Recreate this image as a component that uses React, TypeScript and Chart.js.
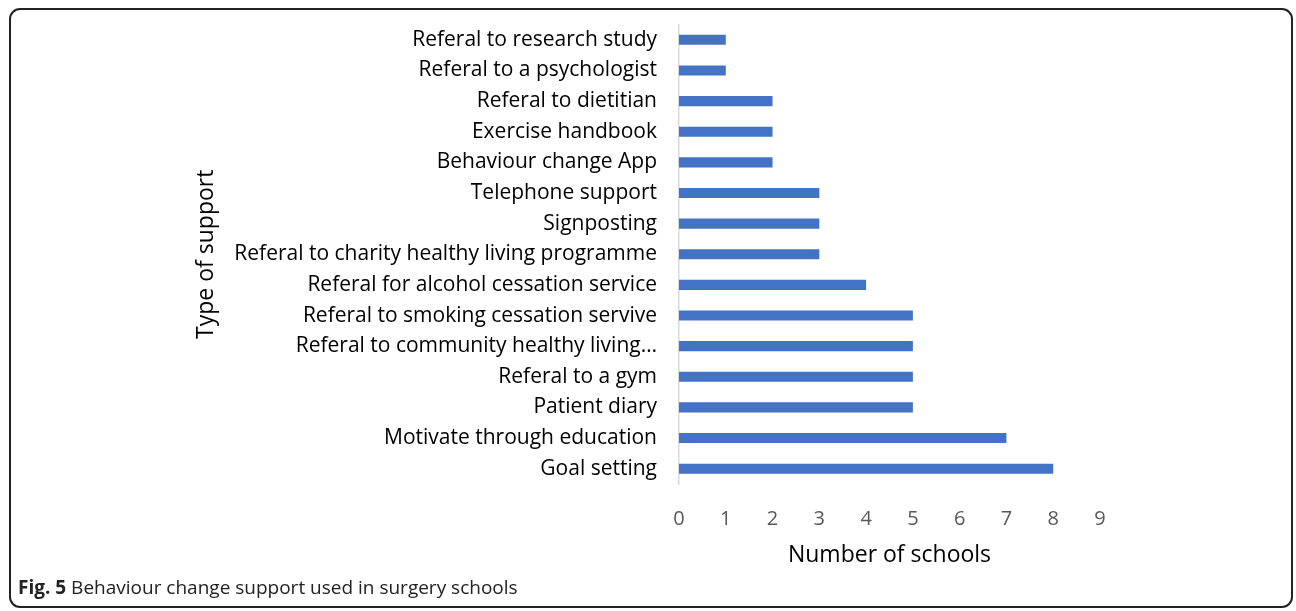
import React, { useEffect, useRef } from "react";
import { Chart, registerables } from "chart.js";

Chart.register(...registerables);

const categories: string[] = [
  "Referal to research study",
  "Referal to a psychologist",
  "Referal to dietitian",
  "Exercise handbook",
  "Behaviour change App",
  "Telephone support",
  "Signposting",
  "Referal to charity healthy living programme",
  "Referal for alcohol cessation service",
  "Referal to smoking cessation servive",
  "Referal to community healthy living…",
  "Referal to a gym",
  "Patient diary",
  "Motivate through education",
  "Goal setting",
];

const schoolCounts: number[] = [1, 1, 2, 2, 2, 3, 3, 3, 4, 5, 5, 5, 5, 7, 8];

const xTicks: number[] = [0, 1, 2, 3, 4, 5, 6, 7, 8, 9];

const xTitle = "Number of schools";
const yTitle = "Type of support";
const captionBold = "Fig. 5";
const captionText = " Behaviour change support used in surgery schools";

const FONT = "'Open Sans', sans-serif";

export default function App() {
  const ref = useRef<HTMLCanvasElement | null>(null);

  useEffect(() => {
    if (!ref.current) return;
    const chart = new Chart(ref.current, {
      type: "bar",
      data: {
        labels: categories,
        datasets: [
          {
            data: schoolCounts,
            backgroundColor: "#4472C4",
            borderWidth: 0,
            barPercentage: 0.33,
            categoryPercentage: 1,
          },
        ],
      },
      options: {
        indexAxis: "y",
        animation: false,
        responsive: false,
        maintainAspectRatio: false,
        layout: { padding: { left: 193, right: 196, top: 24.5, bottom: 41.5 } },
        plugins: { legend: { display: false }, tooltip: { enabled: false } },
        scales: {
          x: {
            min: 0,
            max: 9,
            afterFit: (s: any) => {
              s.height = 85.5;
              s.paddingLeft = 0;
              s.paddingRight = 0;
            },
            afterBuildTicks: (s: any) => {
              s.ticks = xTicks.map((v) => ({ value: v }));
            },
            border: { display: false },
            grid: { display: false, drawTicks: false },
            ticks: {
              padding: 23,
              color: "#595959",
              font: { family: FONT, size: 20 },
            },
            title: {
              display: true,
              text: xTitle,
              color: "#000000",
              padding: 0,
              font: { family: FONT, size: 23 },
            },
          },
          y: {
            afterFit: (s: any) => {
              s.width = 486;
              s.paddingTop = 0;
              s.paddingBottom = 0;
            },
            border: { display: true, color: "#D9D9D9", width: 1.5 },
            grid: { display: false, drawTicks: false },
            ticks: {
              padding: 22,
              color: "#000000",
              autoSkip: false,
              font: { family: FONT, size: 21 },
            },
            title: {
              display: true,
              text: yTitle,
              color: "#000000",
              padding: 0,
              font: { family: FONT, size: 23 },
            },
          },
        },
      },
    });
    return () => chart.destroy();
  }, []);

  return (
    <div style={{ position: "fixed", left: 0, top: 0, width: 1296, height: 611, background: "#fff" }}>
      <div
        style={{
          position: "absolute",
          left: 9,
          top: 8,
          width: 1284,
          height: 600,
          border: "2px solid #222",
          borderRadius: 11,
          boxSizing: "border-box",
        }}
      />
      <canvas ref={ref} width={1296} height={611} style={{ position: "absolute", left: 0, top: 0 }} />
      <div
        style={{
          position: "absolute",
          left: 18,
          top: 574,
          fontFamily: FONT,
          fontSize: 19,
          lineHeight: "26px",
          color: "#222",
          whiteSpace: "nowrap",
        }}
      >
        <b>{captionBold}</b>
        {captionText}
      </div>
    </div>
  );
}
